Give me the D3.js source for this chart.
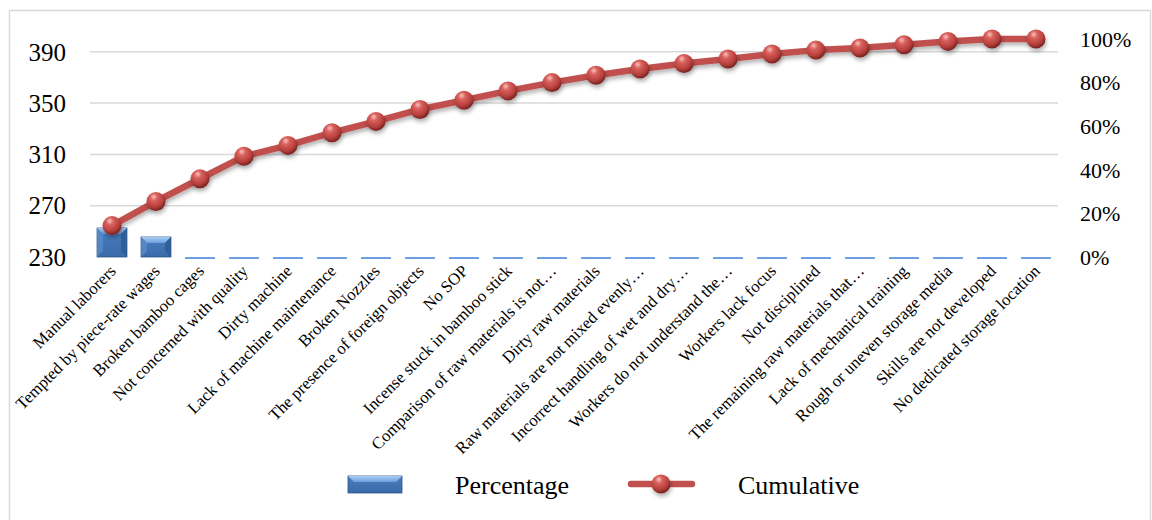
<!DOCTYPE html>
<html>
<head>
<meta charset="utf-8">
<script src="https://cdn.jsdelivr.net/npm/d3@7"></script>
<style>
  html, body { margin: 0; padding: 0; background: #fff; }
  svg { display: block; font-family: "Liberation Serif", "Times New Roman", serif; }
</style>
</head>
<body>
<svg id="chart" width="1152" height="520"></svg>
<script>
// Causes of defects (Pareto)
const categories = [
  "Manual laborers",
  "Tempted by piece-rate wages",
  "Broken bamboo cages",
  "Not concerned with quality",
  "Dirty machine",
  "Lack of machine maintenance",
  "Broken Nozzles",
  "The presence of foreign objects",
  "No SOP",
  "Incense stuck in bamboo stick",
  "Comparison of raw materials is not…",
  "Dirty raw materials",
  "Raw materials are not mixed evenly…",
  "Incorrect handling of wet and dry…",
  "Workers do not understand the…",
  "Workers lack focus",
  "Not disciplined",
  "The remaining raw materials that…",
  "Lack of mechanical training",
  "Rough or uneven storage media",
  "Skills are not developed",
  "No dedicated storage location"
];
// Bar series (left axis); values at or below the axis floor sit on the baseline
const percentage = [252.6, 245.6, 230, 230, 230, 230, 230, 230, 230, 230, 230,
                    230, 230, 230, 230, 230, 230, 230, 230, 230, 230, 230];
// Cumulative share (right axis)
const cumulative = [0.144, 0.255, 0.359, 0.462, 0.512, 0.570, 0.622, 0.677, 0.719, 0.762, 0.800,
                    0.834, 0.862, 0.888, 0.908, 0.931, 0.949, 0.959, 0.974, 0.989, 1.000, 1.000];
const leftTicks = [230, 270, 310, 350, 390];
const rightTicks = [0, 0.2, 0.4, 0.6, 0.8, 1.0];
const seriesNames = ["Percentage", "Cumulative"];

const svg = d3.select("#chart");
const plot = { left: 90, right: 1058, top: 39, bottom: 257 };

const x = d3.scaleBand().domain(categories).range([plot.left, plot.right]).paddingInner(0.32).paddingOuter(0.16);
const yL = d3.scaleLinear().domain([230, 400]).range([plot.bottom, plot.top]);
const yR = d3.scaleLinear().domain([0, 1]).range([plot.bottom, plot.top]);

const defs = svg.append("defs");

// bar bevel gradients
const gFace = defs.append("linearGradient").attr("id", "barFace").attr("x1", 0).attr("y1", 0).attr("x2", 0).attr("y2", 1);
gFace.append("stop").attr("offset", "0%").attr("stop-color", "#4a7fc0");
gFace.append("stop").attr("offset", "100%").attr("stop-color", "#3a6aa8");
const gTop = defs.append("linearGradient").attr("id", "barTop").attr("x1", 0).attr("y1", 0).attr("x2", 0).attr("y2", 1);
gTop.append("stop").attr("offset", "0%").attr("stop-color", "#a9cdf5");
gTop.append("stop").attr("offset", "100%").attr("stop-color", "#6d9fdc");

// marker sphere
const gBall = defs.append("radialGradient").attr("id", "ball").attr("cx", "40%").attr("cy", "32%").attr("r", "65%").attr("fx", "38%").attr("fy", "25%");
gBall.append("stop").attr("offset", "0%").attr("stop-color", "#f7c3c1");
gBall.append("stop").attr("offset", "30%").attr("stop-color", "#d9615d");
gBall.append("stop").attr("offset", "75%").attr("stop-color", "#b7403c");
gBall.append("stop").attr("offset", "100%").attr("stop-color", "#7e2624");

const shadow = defs.append("filter").attr("id", "shadow").attr("x", "-20%").attr("y", "-20%").attr("width", "140%").attr("height", "160%");
shadow.append("feDropShadow").attr("dx", 1).attr("dy", 3).attr("stdDeviation", 2).attr("flood-color", "#000").attr("flood-opacity", 0.3);

// frame
svg.append("rect").attr("x", 9.5).attr("y", 10.5).attr("width", 1141).attr("height", 520)
  .attr("fill", "#fff").attr("stroke", "#d9d9d9").attr("stroke-width", 1.5);

// gridlines
svg.append("g").selectAll("line").data(leftTicks.filter(d => d > 230)).join("line")
  .attr("x1", plot.left).attr("x2", plot.right)
  .attr("y1", d => yL(d)).attr("y2", d => yL(d))
  .attr("stroke", "#d9d9d9").attr("stroke-width", 1.5);

// left axis labels
svg.append("g").selectAll("text").data(leftTicks).join("text")
  .attr("x", 66).attr("y", d => yL(d)).attr("dy", "0.35em")
  .attr("text-anchor", "end").attr("font-size", 25).attr("fill", "#000")
  .text(d3.format("d"));

// right axis labels
svg.append("g").selectAll("text").data(rightTicks).join("text")
  .attr("x", 1080).attr("y", d => yR(d)).attr("dy", "0.35em")
  .attr("text-anchor", "start").attr("font-size", 22).attr("fill", "#000")
  .text(d3.format(".0%"));

// bars
const bw = x.bandwidth();
const bars = svg.append("g");
percentage.forEach((v, i) => {
  const x0 = x(categories[i]);
  const yTop = yL(Math.max(v, 230));
  const h = plot.bottom - yTop;
  if (h > 1) {
    const b = Math.min(6, h / 3);
    bars.append("rect").attr("x", x0).attr("y", yTop).attr("width", bw).attr("height", h)
      .attr("fill", "url(#barFace)").attr("stroke", "#2d5586").attr("stroke-width", 0.8);
    bars.append("path")
      .attr("d", `M${x0},${yTop} L${x0 + bw},${yTop} L${x0 + bw - b},${yTop + b} L${x0 + b},${yTop + b} Z`)
      .attr("fill", "url(#barTop)");
    bars.append("path")
      .attr("d", `M${x0},${yTop} L${x0 + b},${yTop + b} L${x0 + b},${plot.bottom - b} L${x0},${plot.bottom} Z`)
      .attr("fill", "#5b8fcf").attr("opacity", 0.7);
    bars.append("path")
      .attr("d", `M${x0 + bw},${yTop} L${x0 + bw - b},${yTop + b} L${x0 + bw - b},${plot.bottom - b} L${x0 + bw},${plot.bottom} Z`)
      .attr("fill", "#2c5a94").attr("opacity", 0.8);
  } else {
    bars.append("rect").attr("x", x0).attr("y", plot.bottom).attr("width", bw).attr("height", 2)
      .attr("fill", "#6e9fe0");
  }
});

// baseline axis
svg.append("line").attr("x1", plot.left).attr("x2", plot.right)
  .attr("y1", plot.bottom).attr("y2", plot.bottom)
  .attr("stroke", "#c8c8c8").attr("stroke-width", 2).attr("filter", "url(#shadow)");

// category labels
svg.append("g").selectAll("text").data(categories).join("text")
  .attr("transform", d => `translate(${x(d) + bw / 2 + 5},${plot.bottom + 15}) rotate(-45)`)
  .attr("text-anchor", "end").attr("font-size", 16.8).attr("fill", "#000")
  .text(d => d);

// cumulative line
const cx = i => x(categories[i]) + bw / 2;
const line = d3.line().x((d, i) => cx(i)).y(d => yR(d));
svg.append("path").datum(cumulative).attr("d", line)
  .attr("fill", "none").attr("stroke", "#c0504d").attr("stroke-width", 6.5)
  .attr("stroke-linejoin", "round").attr("filter", "url(#shadow)");
svg.append("g").selectAll("circle").data(cumulative).join("circle")
  .attr("cx", (d, i) => cx(i)).attr("cy", d => yR(d)).attr("r", 9.5)
  .attr("fill", "url(#ball)").attr("filter", "url(#shadow)");

// legend
const lg = svg.append("g");
lg.append("rect").attr("x", 348).attr("y", 476).attr("width", 54).attr("height", 17)
  .attr("fill", "url(#barFace)").attr("stroke", "#2d5586").attr("stroke-width", 0.8);
lg.append("path").attr("d", "M348,476 L402,476 L396,482 L354,482 Z").attr("fill", "url(#barTop)");
lg.append("text").attr("x", 455).attr("y", 485).attr("dy", "0.35em").attr("font-size", 26).text(seriesNames[0]);
lg.append("line").attr("x1", 631).attr("x2", 692).attr("y1", 484).attr("y2", 484)
  .attr("stroke", "#c0504d").attr("stroke-width", 6.5).attr("stroke-linecap", "round");
lg.append("circle").attr("cx", 661).attr("cy", 484).attr("r", 9.5).attr("fill", "url(#ball)").attr("filter", "url(#shadow)");
lg.append("text").attr("x", 738).attr("y", 485).attr("dy", "0.35em").attr("font-size", 26).text(seriesNames[1]);
</script>
</body>
</html>
